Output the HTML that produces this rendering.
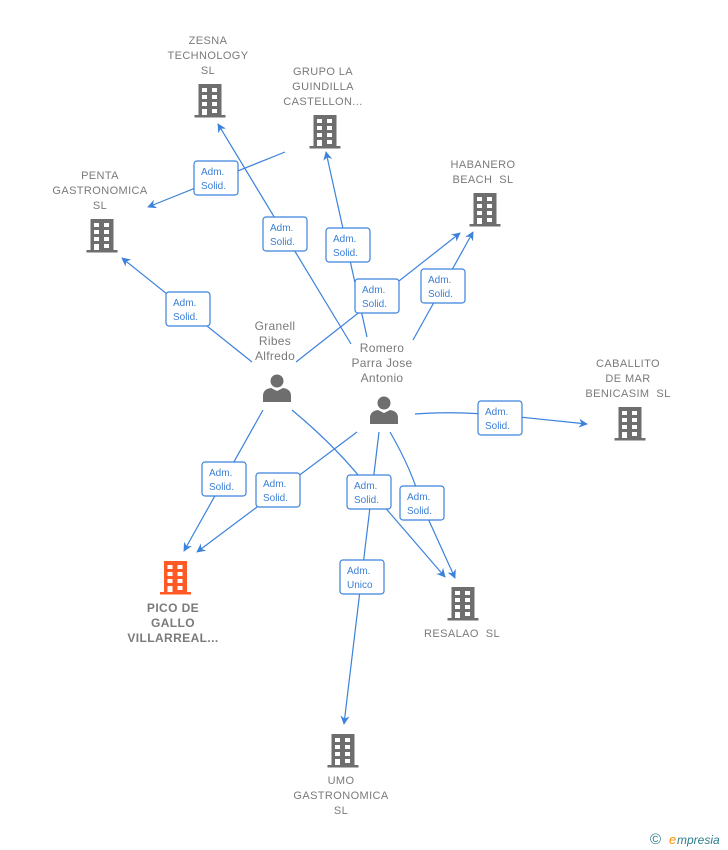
<!DOCTYPE html>
<html><head><meta charset="utf-8"><style>
html,body{margin:0;padding:0;background:#fff;}
svg{display:block;font-family:"Liberation Sans",sans-serif;}
text{white-space:pre;}
.n{fill:#7a7a7a;font-size:11px;text-anchor:middle;letter-spacing:0.4px;}
.p{fill:#7a7a7a;font-size:12px;text-anchor:middle;letter-spacing:0.3px;}
.e{stroke:#3b82dc;stroke-width:1.2;fill:none;}
.lb rect{fill:#fff;stroke:#3b82dc;stroke-width:1.2;}
.lb text{fill:#3b7fd6;font-size:10px;}
</style></head><body>
<svg width="728" height="850" viewBox="0 0 728 850" xml:space="preserve">
<defs>
<marker id="a" viewBox="0 0 10 10" refX="9" refY="5" markerWidth="9" markerHeight="9" orient="auto" markerUnits="userSpaceOnUse"><path d="M0,0 L10,5 L0,10 L3,5 z" fill="#3b82dc"/></marker>
<g id="bld">
<rect x="-11.5" y="0" width="23" height="33"/>
<rect x="-15.5" y="31" width="31" height="2.5"/>
<g fill="#fff">
<rect x="-8" y="4" width="5" height="4"/><rect x="2" y="4" width="5" height="4"/>
<rect x="-8" y="11" width="5" height="4"/><rect x="2" y="11" width="5" height="4"/>
<rect x="-8" y="18" width="5" height="4"/><rect x="2" y="18" width="5" height="4"/>
<rect x="-8" y="25" width="5" height="6"/><rect x="2" y="25" width="5" height="4"/>
</g>
</g>
<g id="per">
<circle cx="0" cy="7" r="6.5"/>
<path d="M-14,28 L-14,22 Q-14,15 -6,14 L0,17 L6,14 Q14,15 14,22 L14,28 z"/>
</g>
</defs>

<path class="e" d="M285,152 L148,207" marker-end="url(#a)"/>
<path class="e" d="M351,344 L218,124" marker-end="url(#a)"/>
<path class="e" d="M367,337 L326,152" marker-end="url(#a)"/>
<path class="e" d="M252,362 L122,258" marker-end="url(#a)"/>
<path class="e" d="M296,362 L460,233" marker-end="url(#a)"/>
<path class="e" d="M413,340 L473,232" marker-end="url(#a)"/>
<path class="e" d="M415,414 Q450,411 500,415 L587,424" marker-end="url(#a)"/>
<path class="e" d="M263,410 L184,551" marker-end="url(#a)"/>
<path class="e" d="M357,432 L197,552" marker-end="url(#a)"/>
<path class="e" d="M292,410 Q340,450 370,490 L445,577" marker-end="url(#a)"/>
<path class="e" d="M379,432 L344,724" marker-end="url(#a)"/>
<path class="e" d="M390,432 Q412,470 421,503 L455,578" marker-end="url(#a)"/>

<g class="lb">
<g transform="translate(194,161)"><rect width="44" height="34" rx="3"/><text x="7" y="14">Adm.</text><text x="7" y="28">Solid.</text></g>
<g transform="translate(263,217)"><rect width="44" height="34" rx="3"/><text x="7" y="14">Adm.</text><text x="7" y="28">Solid.</text></g>
<g transform="translate(326,228)"><rect width="44" height="34" rx="3"/><text x="7" y="14">Adm.</text><text x="7" y="28">Solid.</text></g>
<g transform="translate(166,292)"><rect width="44" height="34" rx="3"/><text x="7" y="14">Adm.</text><text x="7" y="28">Solid.</text></g>
<g transform="translate(355,279)"><rect width="44" height="34" rx="3"/><text x="7" y="14">Adm.</text><text x="7" y="28">Solid.</text></g>
<g transform="translate(421,269)"><rect width="44" height="34" rx="3"/><text x="7" y="14">Adm.</text><text x="7" y="28">Solid.</text></g>
<g transform="translate(478,401)"><rect width="44" height="34" rx="3"/><text x="7" y="14">Adm.</text><text x="7" y="28">Solid.</text></g>
<g transform="translate(202,462)"><rect width="44" height="34" rx="3"/><text x="7" y="14">Adm.</text><text x="7" y="28">Solid.</text></g>
<g transform="translate(256,473)"><rect width="44" height="34" rx="3"/><text x="7" y="14">Adm.</text><text x="7" y="28">Solid.</text></g>
<g transform="translate(347,475)"><rect width="44" height="34" rx="3"/><text x="7" y="14">Adm.</text><text x="7" y="28">Solid.</text></g>
<g transform="translate(400,486)"><rect width="44" height="34" rx="3"/><text x="7" y="14">Adm.</text><text x="7" y="28">Solid.</text></g>
<g transform="translate(340,560)"><rect width="44" height="34" rx="3"/><text x="7" y="14">Adm.</text><text x="7" y="28">Unico</text></g>
</g>

<g fill="#6e6e6e">
<use href="#bld" transform="translate(210,84)"/>
<use href="#bld" transform="translate(325,115)"/>
<use href="#bld" transform="translate(102,219)"/>
<use href="#bld" transform="translate(485,193)"/>
<use href="#bld" transform="translate(630,407)"/>
<use href="#bld" transform="translate(463,587)"/>
<use href="#bld" transform="translate(343,734)"/>
<use href="#per" transform="translate(277,374)"/>
<use href="#per" transform="translate(384,396)"/>
</g>
<g fill="#ff5a26"><use href="#bld" transform="translate(175.5,561)"/></g>

<text class="n" x="208" y="44">ZESNA</text>
<text class="n" x="208" y="59">TECHNOLOGY</text>
<text class="n" x="208" y="74">SL</text>
<text class="n" x="323" y="75">GRUPO LA</text>
<text class="n" x="323" y="90">GUINDILLA</text>
<text class="n" x="323" y="105">CASTELLON...</text>
<text class="n" x="100" y="179">PENTA</text>
<text class="n" x="100" y="194">GASTRONOMICA</text>
<text class="n" x="100" y="209">SL</text>
<text class="n" x="483" y="168">HABANERO</text>
<text class="n" x="483" y="183">BEACH  SL</text>
<text class="n" x="628" y="367">CABALLITO</text>
<text class="n" x="628" y="382">DE MAR</text>
<text class="n" x="628" y="397">BENICASIM  SL</text>
<text class="n" x="462" y="637">RESALAO  SL</text>
<text class="n" x="341" y="784">UMO</text>
<text class="n" x="341" y="799">GASTRONOMICA</text>
<text class="n" x="341" y="814">SL</text>
<text class="n" x="173" y="612" style="font-size:12px;font-weight:bold">PICO DE</text>
<text class="n" x="173" y="627" style="font-size:12px;font-weight:bold">GALLO</text>
<text class="n" x="173" y="642" style="font-size:12px;font-weight:bold">VILLARREAL...</text>
<text class="p" x="275" y="330">Granell</text>
<text class="p" x="275" y="345">Ribes</text>
<text class="p" x="275" y="360">Alfredo</text>
<text class="p" x="382" y="352">Romero</text>
<text class="p" x="382" y="367">Parra Jose</text>
<text class="p" x="382" y="382">Antonio</text>

<text x="650" y="844" style="font-size:15px;fill:#2e7d8c">©</text>
<text x="669" y="844" style="font-size:13px;fill:#ff8c00;font-style:italic">e</text>
<text x="677" y="844" style="font-size:12px;fill:#2e7d8c;font-style:italic">mpresia</text>
</svg>
</body></html>
